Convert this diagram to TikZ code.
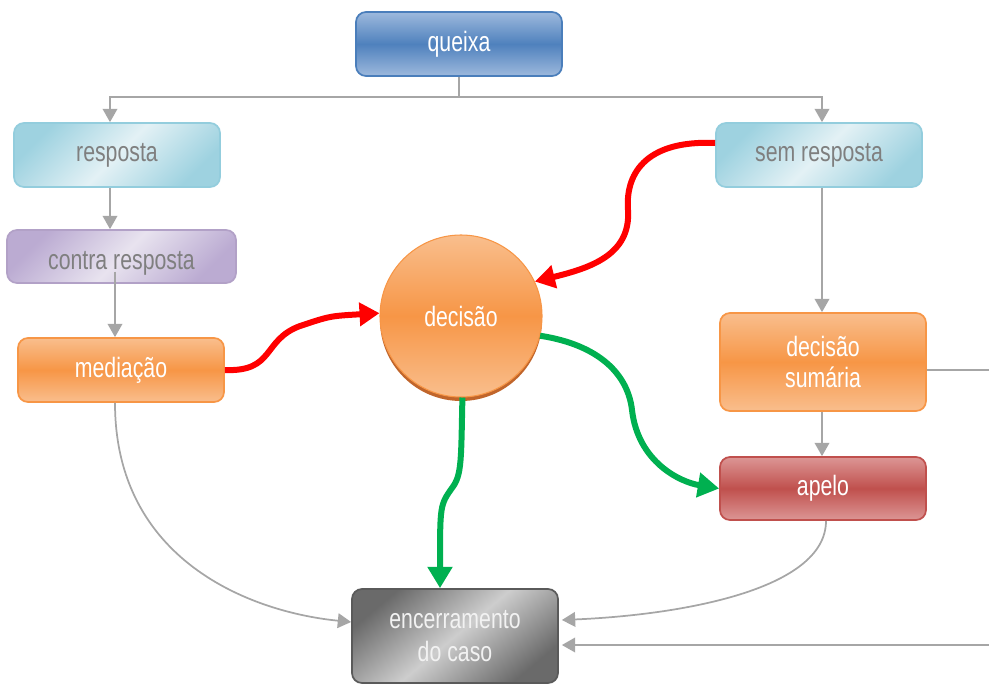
\documentclass[tikz,border=0pt]{standalone}
\usepackage{fontspec}
\setmainfont[FakeStretch=0.76]{Liberation Sans}
\usetikzlibrary{arrows.meta,shadows,calc}
\definecolor{lineg}{HTML}{A6A6A6}
\definecolor{txtg}{HTML}{7F7F7F}
\definecolor{blueD}{HTML}{4F81BD}
\definecolor{blueL}{HTML}{9DB9DD}
\definecolor{blueB}{HTML}{4A7EBB}
\definecolor{cyanD}{HTML}{9ED2E0}
\definecolor{cyanL}{HTML}{E3F1F5}
\definecolor{cyanB}{HTML}{93CDDD}
\definecolor{purD}{HTML}{BBABD2}
\definecolor{purL}{HTML}{E8E3EF}
\definecolor{purB}{HTML}{B2A1C7}
\definecolor{orD}{HTML}{F79646}
\definecolor{orL}{HTML}{F9BE8D}
\definecolor{orB}{HTML}{F79646}
\definecolor{orS}{HTML}{C0652B}
\definecolor{redD}{HTML}{C0504D}
\definecolor{redL}{HTML}{DC9695}
\definecolor{grD}{HTML}{6A6A6A}
\definecolor{grL}{HTML}{CDCDCD}
\definecolor{grB}{HTML}{5A5A5A}
\definecolor{rline}{HTML}{FF0000}
\definecolor{gline}{HTML}{00B050}
\tikzset{
  boxbase/.style={rounded corners=7.5pt, minimum width=154.5pt, minimum height=48pt,
    line width=1.3pt, align=center, font=\fontsize{21}{23}\selectfont, inner sep=0pt},
  bluebox/.style={boxbase, draw=blueB, top color=blueL, bottom color=blueL, middle color=blueD, text=white},
  cyanbox/.style={boxbase, draw=cyanB, shading=axis, left color=cyanD, right color=cyanD, middle color=cyanL, shading angle=45, text=txtg},
  purbox/.style={boxbase, draw=purB, shading=axis, left color=purD, right color=purD, middle color=purL, shading angle=45, text=txtg},
  orbox/.style={boxbase, draw=orB, top color=orL, bottom color=orL, middle color=orD, text=white},
  redbox/.style={boxbase, draw=redD, top color=redL, bottom color=redL, middle color=redD, text=white},
  graybox/.style={boxbase, draw=grB, shading=axis, left color=grD, right color=grD, middle color=grL, shading angle=40, text=white!95!black, font=\fontsize{21}{24.5}\selectfont},
  garrow/.style={draw=lineg, line width=1.3pt, -{Triangle[length=10pt,width=11pt]}},
  gline/.style={draw=lineg, line width=1.3pt},
  redarrow/.style={draw=rline, line width=4.5pt, -{Triangle[length=15pt,width=17pt]}},
  grnarrow/.style={draw=gline, line width=4.5pt, -{Triangle[length=16pt,width=18pt]}},
}
\begin{document}
\begin{tikzpicture}[x=0.75pt,y=-0.75pt]
\useasboundingbox (0,0) rectangle (989,683);

\node[bluebox] (queixa) at (459,44) {queixa};
\node[cyanbox] (resposta) at (117,155) {resposta};
\node[cyanbox] (semresp) at (819,155) {sem resposta};
\node[purbox, minimum width=171.75pt, minimum height=39.75pt, text depth=0pt] (contra) at (121.5,256.5) {\raisebox{-6pt}{contra resposta}};
\node[orbox] (mediacao) at (121,370) {mediação};
\node[orbox, minimum height=73.5pt] (sumaria) at (823,362) {decisão\\sumária};
\node[redbox, minimum height=47.25pt] (apelo) at (823,488.5) {apelo};
\node[graybox, minimum height=70.5pt] (encerr) at (455,636) {encerramento\\do caso};

\node[circle, minimum size=121.5pt, inner sep=0pt, draw=orD, line width=0.8pt,
  top color=orL, bottom color=orL, middle color=orD, text=white,
  font=\fontsize{21}{23}\selectfont,
  drop shadow={shadow xshift=0pt, shadow yshift=-3pt, fill=orS, opacity=1}] (decisao) at (461,316) {decisão};

% tree from queixa
\coordinate (split) at (459,97);
\draw[gline] (queixa.south) -- (split);
\draw[garrow] (split) -| ($(resposta.north)+(-7,0)$);
\draw[garrow] (split) -| ($(semresp.north)+(3,0)$);

\draw[garrow] ($(resposta.south)+(-7,0)$) -- ($(contra.north)+(-11.5,0)$);
\draw[garrow] ($(contra.center)+(-6.5,15)$) -- ($(mediacao.north)+(-6,0)$);
\draw[garrow] ($(semresp.south)+(3,0)$) -- ($(sumaria.north)+(-1,0)$);
\draw[garrow] ($(sumaria.south)+(-1,0)$) -- ($(apelo.north)+(-1,0)$);

\coordinate (rtop) at (989,370);
\coordinate (rbot) at (989,645);
\draw[gline] ($(sumaria.east)+(0,8)$) -- (rtop);
\draw[garrow] (rbot) -- ($(encerr.east)+(3,9)$);

\draw[garrow] ($(mediacao.south)+(-6,0)$) .. controls (115,560) and (250,612) .. ($(encerr.west)+(0,-14)$);
\draw[garrow] ($(apelo.south)+(3,0)$) .. controls (826,590) and (680,615) .. ($(encerr.east)+(3,-16)$);

% red arrows
\draw[redarrow] (mediacao.east) .. controls (275,372) and (262,340) .. (300,326) .. controls (330,316) .. (decisao.178);
\draw[redarrow] ($(semresp.west)+(0,-12)$) .. controls (650,140) and (625,170) .. (628,210) .. controls (631,255) and (590,268) .. (decisao.25);

% green arrows
\draw[grnarrow] (decisao.-14) .. controls (600,345) and (628,375) .. (632,410) .. controls (638,462) and (680,482) .. (apelo.west);
\draw[grnarrow] (decisao.-89) .. controls (461,460) and (462,475) .. (452,488) .. controls (440,505) .. ($(encerr.north)+(-15,0)$);
\end{tikzpicture}
\end{document}
